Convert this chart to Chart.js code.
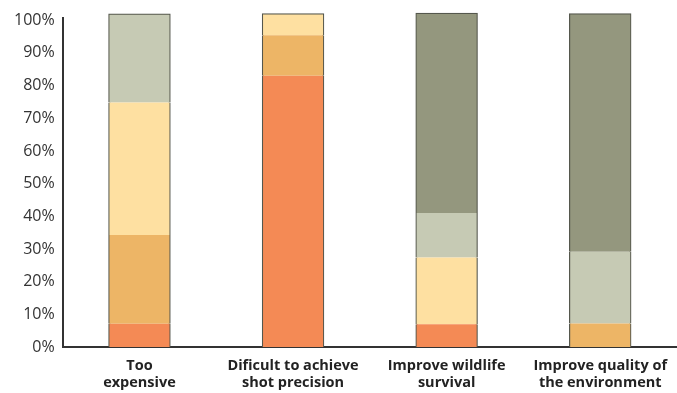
<!DOCTYPE html>
<html>
<head>
<meta charset="utf-8">
<script src="https://cdn.jsdelivr.net/npm/chart.js@4.4.1/dist/chart.umd.min.js"></script>
<style>
  html, body { margin: 0; padding: 0; background: #fff; }
  #wrap { width: 677px; height: 393px; position: relative; }
</style>
</head>
<body>
<div id="wrap"><canvas id="chart"></canvas></div>
<script>
// categories (two-line labels)
const categories = [
    ['Too', 'expensive'],
    ['Dificult to achieve', 'shot precision'],
    ['Improve wildlife', 'survival'],
    ['Improve quality of', 'the environment']
];

// stacked series, bottom to top (percent of responses)
const seriesA = [7.1, 83.0, 7.0, 0];
const seriesB = [27.2, 12.4, 0, 7.2];
const seriesC = [40.5, 6.6, 20.4, 0];
const seriesD = [27.1, 0, 13.6, 22.0];
const seriesE = [0, 0, 61.1, 72.8];

const yTicks = [0, 10, 20, 30, 40, 50, 60, 70, 80, 90, 100];

const colors = ['#f48a55', '#edb566', '#fee0a1', '#c6cab4', '#94977e'];
const allSeries = [seriesA, seriesB, seriesC, seriesD, seriesE];

// outline the whole stacked bar: sides on every segment, top only on the highest one
function borderFor(ctx) {
    const di = ctx.datasetIndex;
    const idx = ctx.dataIndex;
    let top = 0;
    if (allSeries[di][idx] > 0) {
        const higher = allSeries.slice(di + 1).some(s => s[idx] > 0);
        top = higher ? 0 : 1.2;
    }
    return { left: 1.2, right: 1.2, top: top, bottom: 0 };
}

const datasets = allSeries.map((s, i) => ({
    data: s,
    backgroundColor: colors[i],
    borderColor: '#55574d',
    borderWidth: borderFor,
    borderSkipped: false,
    inflateAmount: 0.5,
    barPercentage: 0.4,
    categoryPercentage: 1.0,
    clip: false // totals run a little past 100%, like the original
}));

new Chart(document.getElementById('chart'), {
    type: 'bar',
    data: { labels: categories, datasets: datasets },
    options: {
        responsive: true,
        maintainAspectRatio: false,
        animation: false,
        layout: { padding: { top: 0, right: -2, left: 6, bottom: -8 } },
        plugins: { legend: { display: false }, tooltip: { enabled: false } },
        scales: {
            x: {
                stacked: true,
                grid: { display: false, drawTicks: false },
                border: { display: true, color: '#333', width: 2 },
                ticks: {
                    color: '#222',
                    padding: 10,
                    maxRotation: 0,
                    font: { family: 'Open Sans', size: 14.5, weight: 'bold', lineHeight: 1.17 }
                }
            },
            y: {
                stacked: true,
                min: 0,
                max: 100.8,
                grid: { display: false, drawTicks: false },
                border: { display: true, color: '#333', width: 2 },
                afterBuildTicks: axis => { axis.ticks = yTicks.map(v => ({ value: v })); },
                ticks: {
                    color: '#333',
                    padding: 8,
                    callback: v => v + '%',
                    font: { family: 'Open Sans', size: 16 }
                }
            }
        }
    }
});
</script>
</body>
</html>
